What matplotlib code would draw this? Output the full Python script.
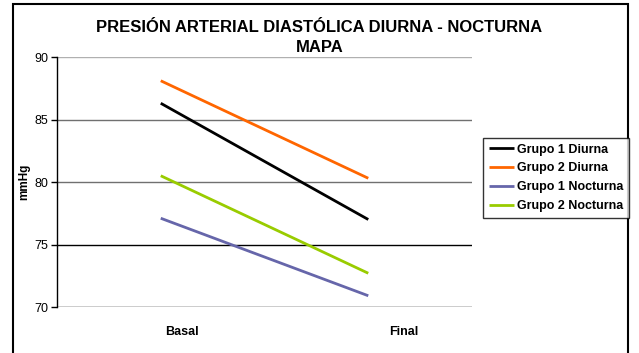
import matplotlib
matplotlib.use('Agg')
import matplotlib.pyplot as plt
import matplotlib.patches as mpatches
from matplotlib.transforms import ScaledTranslation

plt.rcParams['font.family'] = ['Liberation Sans', 'DejaVu Sans']

# data
categories = ["Basal", "Final"]
series_names = ["Grupo 1 Diurna", "Grupo 2 Diurna", "Grupo 1 Nocturna", "Grupo 2 Nocturna"]
g1_diurna = [86.3, 77.0]
g2_diurna = [88.1, 80.3]
g1_nocturna = [77.1, 70.9]
g2_nocturna = [80.5, 72.7]
y_ticks = [70, 75, 80, 85, 90]
colors = ["#000000", "#ff6600", "#6666aa", "#99cc00"]

fig = plt.figure(figsize=(6.39, 3.53), dpi=100)
fig.patch.set_facecolor("white")
ax = fig.add_axes([0.0892, 0.1303, 0.6495, 0.7082])

xs = [0.5, 1.5]
for vals, name, c in zip([g1_diurna, g2_diurna, g1_nocturna, g2_nocturna], series_names, colors):
    ax.plot(xs, vals, color=c, lw=2, label=name, solid_capstyle="butt")

ax.set_xlim(0, 2)
ax.set_ylim(70, 90)
ax.set_yticks(y_ticks)
ax.yaxis.grid(True, color="#000000", lw=1)
grid_cols = ["#000000", "#000000", "#707070", "#707070", "#b0b0b0"]
for gl, gc in zip(ax.get_ygridlines(), grid_cols):
    gl.set_color(gc)
ax.set_axisbelow(True)
ax.set_xticks(xs)
ax.set_xticklabels(categories, fontsize=9, fontweight="bold")
ax.tick_params(axis="x", length=0, pad=14)
# excel-style label offsets
for lbl, dx in zip(ax.get_xticklabels(), [21, 35]):
    lbl.set_transform(lbl.get_transform() + ScaledTranslation(dx / 100, 0, fig.dpi_scale_trans))
ax.tick_params(axis="y", labelsize=9, length=4, width=1, pad=2)
for s in ["top", "right", "bottom"]:
    ax.spines[s].set_visible(False)
ax.spines["left"].set_linewidth(1)
ax.set_ylabel("mmHg", fontsize=8.5, fontweight="bold", labelpad=3)

fig.text(0.5, 0.922, "PRESIÓN ARTERIAL DIASTÓLICA DIURNA - NOCTURNA", ha="center",
         va="center", fontsize=12, fontweight="bold")
fig.text(0.5, 0.866, "MAPA", ha="center", va="center", fontsize=12, fontweight="bold")

leg = fig.legend(loc="upper left", bbox_to_anchor=(483 / 639, 1 - 138 / 353),
                 prop={"weight": "bold", "size": 9}, frameon=True, fancybox=False,
                 edgecolor="black", handlelength=2.0, handletextpad=0.3,
                 borderpad=0.45, labelspacing=0.55, borderaxespad=0)
leg.get_frame().set_linewidth(1)

# chart area border
fig.patches.append(mpatches.Rectangle((13 / 639, -0.01), (628 - 13) / 639, 1 - 4 / 353 + 0.01,
                                      transform=fig.transFigure, fill=False,
                                      edgecolor="black", lw=1.5))

fig.savefig("out.png", dpi=100, facecolor="white")
